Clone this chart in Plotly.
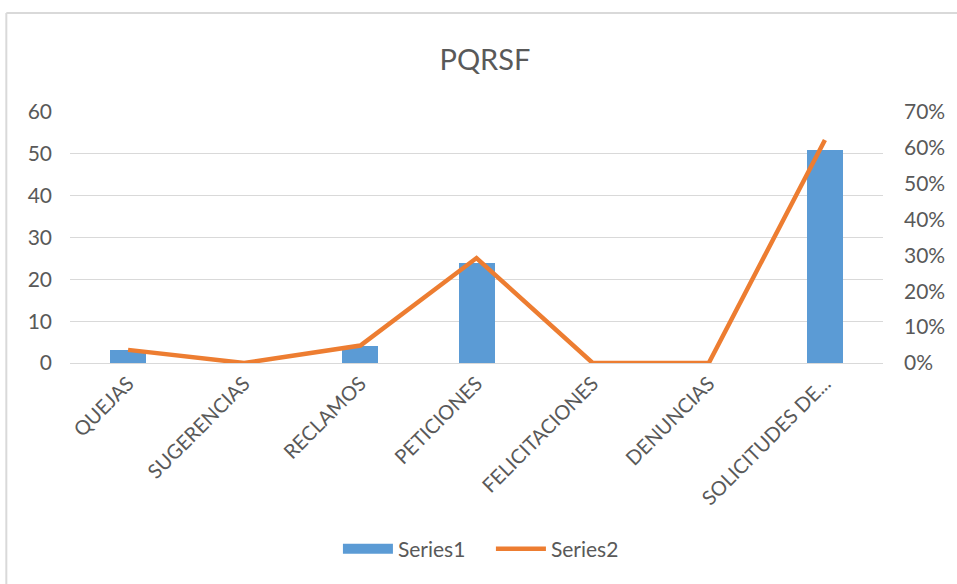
import plotly.graph_objects as go

categories = ["QUEJAS", "SUGERENCIAS", "RECLAMOS", "PETICIONES", "FELICITACIONES", "DENUNCIAS", "SOLICITUDES DE..."]
series1 = [3, 0, 4, 24, 0, 0, 51]
series2 = [0.0366, 0.0, 0.0488, 0.2927, 0.0, 0.0, 0.6220]
left_ticks = [0, 10, 20, 30, 40, 50, 60]
right_ticks = [0, 0.1, 0.2, 0.3, 0.4, 0.5, 0.6, 0.7]

W, H = 957, 584
L, R, T, B = 70, 957 - 887, 112, 584 - 363
pw, ph = W - L - R, H - T - B

def px_x(x):
    return (x - L) / pw

def px_y(y):
    return (H - B - y) / ph

FONT = "Lato"
GREY = "#595959"
BLUE = "#5B9BD5"
ORANGE = "#ED7D31"

fig = go.Figure()
fig.add_trace(go.Bar(x=categories, y=series1, name="Series1", marker_color=BLUE,
                     marker_line_width=0, width=0.31, yaxis="y", showlegend=False))
# legend entry for Series1 drawn as a wide block, like the reference
fig.add_trace(go.Scatter(x=[categories[0]], y=[None], name="Series1", mode="lines",
                         line=dict(color=BLUE, width=11), yaxis="y", hoverinfo="skip"))
fig.add_trace(go.Scatter(x=categories, y=series2, name="Series2", mode="lines",
                         line=dict(color=ORANGE, width=4.5), yaxis="y2"))

fig.update_layout(
    width=W, height=H,
    margin=dict(l=L, r=R, t=T, b=B),
    paper_bgcolor="white", plot_bgcolor="white",
    title=dict(text="PQRSF", x=px_x(487), xref="paper", xanchor="center",
               y=1 - 60 / H, yanchor="middle",
               font=dict(family=FONT, size=29, color=GREY)),
    font=dict(family=FONT, color=GREY),
    xaxis=dict(tickangle=-45, tickfont=dict(size=20, color=GREY), showgrid=False,
               showline=True, linecolor="#D9D9D9", linewidth=1, ticks="", ticklen=0),
    yaxis=dict(range=[0, 60], tickvals=left_ticks, tickfont=dict(size=21, color=GREY),
               showgrid=True, gridcolor="#D9D9D9", gridwidth=1, zeroline=False,
               showline=False, ticks="", ticklabelstandoff=17),
    yaxis2=dict(range=[0, 0.7], tickvals=right_ticks, tickformat=".0%", overlaying="y",
                side="right", tickfont=dict(size=21, color=GREY), showgrid=False,
                zeroline=False, showline=False, ticks="", ticklabelstandoff=20),
    legend=dict(orientation="h", x=px_x(493), xanchor="center", y=px_y(549), yanchor="middle",
                font=dict(size=21, color=GREY), itemwidth=50, entrywidth=88),
    bargap=0.0,
    shapes=[
        dict(type="line", xref="paper", yref="paper", x0=px_x(6), x1=px_x(W + 20),
             y0=px_y(13), y1=px_y(13), line=dict(color="#D9D9D9", width=2)),
        dict(type="line", xref="paper", yref="paper", x0=px_x(6), x1=px_x(6),
             y0=px_y(13), y1=px_y(H + 20), line=dict(color="#D9D9D9", width=2)),
    ],
)

fig.write_html("out.html", config={"displayModeBar": False},
               post_script="document.body.style.margin='0px';")
